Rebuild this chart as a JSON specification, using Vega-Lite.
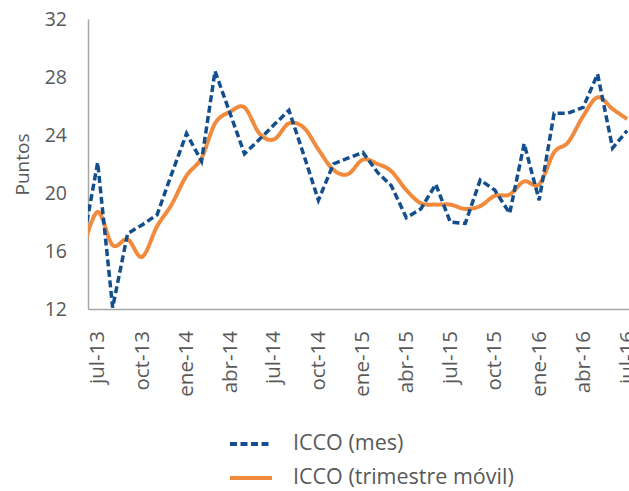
{
  "$schema": "https://vega.github.io/schema/vega-lite/v6.json",
  "width": 541,
  "height": 290,
  "autosize": {"type": "none"},
  "padding": {"left": 88, "top": 19, "right": 0, "bottom": 182},
  "background": "white",
  "config": {
    "view": {"stroke": null},
    "font": "Open Sans",
    "legend": {
      "orient": "none",
      "legendX": 140,
      "legendY": 402,
      "title": null,
      "symbolType": "stroke",
      "symbolSize": 1764,
      "symbolStrokeWidth": 4,
      "labelFontSize": 21.5,
      "labelColor": "#595959",
      "labelOffset": 19,
      "labelLimit": 0,
      "rowPadding": 0,
      "labelFont": "Open Sans"
    }
  },
  "datasets": {
    "icco": [
      {"fecha": "2013-06-01", "serie": "ICCO (mes)", "valor": 16.6},
      {"fecha": "2013-07-01", "serie": "ICCO (mes)", "valor": 22.1},
      {"fecha": "2013-08-01", "serie": "ICCO (mes)", "valor": 12.1},
      {"fecha": "2013-09-01", "serie": "ICCO (mes)", "valor": 17.2},
      {"fecha": "2013-10-01", "serie": "ICCO (mes)", "valor": 17.8},
      {"fecha": "2013-11-01", "serie": "ICCO (mes)", "valor": 18.5},
      {"fecha": "2013-12-01", "serie": "ICCO (mes)", "valor": 21.3},
      {"fecha": "2014-01-01", "serie": "ICCO (mes)", "valor": 24.1},
      {"fecha": "2014-02-01", "serie": "ICCO (mes)", "valor": 22.2},
      {"fecha": "2014-03-01", "serie": "ICCO (mes)", "valor": 28.4},
      {"fecha": "2014-04-01", "serie": "ICCO (mes)", "valor": 25.5},
      {"fecha": "2014-05-01", "serie": "ICCO (mes)", "valor": 22.7},
      {"fecha": "2014-06-01", "serie": "ICCO (mes)", "valor": 23.7},
      {"fecha": "2014-07-01", "serie": "ICCO (mes)", "valor": 24.7},
      {"fecha": "2014-08-01", "serie": "ICCO (mes)", "valor": 25.7},
      {"fecha": "2014-09-01", "serie": "ICCO (mes)", "valor": 22.6},
      {"fecha": "2014-10-01", "serie": "ICCO (mes)", "valor": 19.5},
      {"fecha": "2014-11-01", "serie": "ICCO (mes)", "valor": 22.0},
      {"fecha": "2014-12-01", "serie": "ICCO (mes)", "valor": 22.4},
      {"fecha": "2015-01-01", "serie": "ICCO (mes)", "valor": 22.8},
      {"fecha": "2015-02-01", "serie": "ICCO (mes)", "valor": 21.4},
      {"fecha": "2015-03-01", "serie": "ICCO (mes)", "valor": 20.5},
      {"fecha": "2015-04-01", "serie": "ICCO (mes)", "valor": 18.3},
      {"fecha": "2015-05-01", "serie": "ICCO (mes)", "valor": 18.9},
      {"fecha": "2015-06-01", "serie": "ICCO (mes)", "valor": 20.6},
      {"fecha": "2015-07-01", "serie": "ICCO (mes)", "valor": 18.0},
      {"fecha": "2015-08-01", "serie": "ICCO (mes)", "valor": 17.9},
      {"fecha": "2015-09-01", "serie": "ICCO (mes)", "valor": 20.9},
      {"fecha": "2015-10-01", "serie": "ICCO (mes)", "valor": 20.2},
      {"fecha": "2015-11-01", "serie": "ICCO (mes)", "valor": 18.6},
      {"fecha": "2015-12-01", "serie": "ICCO (mes)", "valor": 23.4},
      {"fecha": "2016-01-01", "serie": "ICCO (mes)", "valor": 19.5},
      {"fecha": "2016-02-01", "serie": "ICCO (mes)", "valor": 25.5},
      {"fecha": "2016-03-01", "serie": "ICCO (mes)", "valor": 25.5},
      {"fecha": "2016-04-01", "serie": "ICCO (mes)", "valor": 25.9},
      {"fecha": "2016-05-01", "serie": "ICCO (mes)", "valor": 28.2},
      {"fecha": "2016-06-01", "serie": "ICCO (mes)", "valor": 23.1},
      {"fecha": "2016-07-01", "serie": "ICCO (mes)", "valor": 24.3},
      {"fecha": "2013-06-01", "serie": "ICCO (trimestre móvil)", "valor": 16.2},
      {"fecha": "2013-07-01", "serie": "ICCO (trimestre móvil)", "valor": 18.7},
      {"fecha": "2013-08-01", "serie": "ICCO (trimestre móvil)", "valor": 16.4},
      {"fecha": "2013-09-01", "serie": "ICCO (trimestre móvil)", "valor": 16.8},
      {"fecha": "2013-10-01", "serie": "ICCO (trimestre móvil)", "valor": 15.6},
      {"fecha": "2013-11-01", "serie": "ICCO (trimestre móvil)", "valor": 17.7},
      {"fecha": "2013-12-01", "serie": "ICCO (trimestre móvil)", "valor": 19.2},
      {"fecha": "2014-01-01", "serie": "ICCO (trimestre móvil)", "valor": 21.2},
      {"fecha": "2014-02-01", "serie": "ICCO (trimestre móvil)", "valor": 22.4},
      {"fecha": "2014-03-01", "serie": "ICCO (trimestre móvil)", "valor": 24.8},
      {"fecha": "2014-04-01", "serie": "ICCO (trimestre móvil)", "valor": 25.6},
      {"fecha": "2014-05-01", "serie": "ICCO (trimestre móvil)", "valor": 25.9},
      {"fecha": "2014-06-01", "serie": "ICCO (trimestre móvil)", "valor": 24.1},
      {"fecha": "2014-07-01", "serie": "ICCO (trimestre móvil)", "valor": 23.7},
      {"fecha": "2014-08-01", "serie": "ICCO (trimestre móvil)", "valor": 24.8},
      {"fecha": "2014-09-01", "serie": "ICCO (trimestre móvil)", "valor": 24.5},
      {"fecha": "2014-10-01", "serie": "ICCO (trimestre móvil)", "valor": 23.0},
      {"fecha": "2014-11-01", "serie": "ICCO (trimestre móvil)", "valor": 21.6},
      {"fecha": "2014-12-01", "serie": "ICCO (trimestre móvil)", "valor": 21.3},
      {"fecha": "2015-01-01", "serie": "ICCO (trimestre móvil)", "valor": 22.3},
      {"fecha": "2015-02-01", "serie": "ICCO (trimestre móvil)", "valor": 22.0},
      {"fecha": "2015-03-01", "serie": "ICCO (trimestre móvil)", "valor": 21.5},
      {"fecha": "2015-04-01", "serie": "ICCO (trimestre móvil)", "valor": 20.2},
      {"fecha": "2015-05-01", "serie": "ICCO (trimestre móvil)", "valor": 19.3},
      {"fecha": "2015-06-01", "serie": "ICCO (trimestre móvil)", "valor": 19.2},
      {"fecha": "2015-07-01", "serie": "ICCO (trimestre móvil)", "valor": 19.2},
      {"fecha": "2015-08-01", "serie": "ICCO (trimestre móvil)", "valor": 18.9},
      {"fecha": "2015-09-01", "serie": "ICCO (trimestre móvil)", "valor": 19.1},
      {"fecha": "2015-10-01", "serie": "ICCO (trimestre móvil)", "valor": 19.8},
      {"fecha": "2015-11-01", "serie": "ICCO (trimestre móvil)", "valor": 19.9},
      {"fecha": "2015-12-01", "serie": "ICCO (trimestre móvil)", "valor": 20.8},
      {"fecha": "2016-01-01", "serie": "ICCO (trimestre móvil)", "valor": 20.6},
      {"fecha": "2016-02-01", "serie": "ICCO (trimestre móvil)", "valor": 22.8},
      {"fecha": "2016-03-01", "serie": "ICCO (trimestre móvil)", "valor": 23.5},
      {"fecha": "2016-04-01", "serie": "ICCO (trimestre móvil)", "valor": 25.3},
      {"fecha": "2016-05-01", "serie": "ICCO (trimestre móvil)", "valor": 26.6},
      {"fecha": "2016-06-01", "serie": "ICCO (trimestre móvil)", "valor": 25.8},
      {"fecha": "2016-07-01", "serie": "ICCO (trimestre móvil)", "valor": 25.1}
    ]
  },
  "data": {"name": "icco"},
  "encoding": {
    "x": {
      "field": "fecha",
      "type": "temporal",
      "scale": {
        "type": "utc",
        "domain": [
          {"year": 2013, "month": 6, "date": 11, "utc": true},
          {"year": 2016, "month": 7, "date": 5, "utc": true}
        ]
      },
      "axis": {
        "title": null,
        "values": [
          {"year": 2013, "month": 7, "date": 1, "utc": true},
          {"year": 2013, "month": 10, "date": 1, "utc": true},
          {"year": 2014, "month": 1, "date": 1, "utc": true},
          {"year": 2014, "month": 4, "date": 1, "utc": true},
          {"year": 2014, "month": 7, "date": 1, "utc": true},
          {"year": 2014, "month": 10, "date": 1, "utc": true},
          {"year": 2015, "month": 1, "date": 1, "utc": true},
          {"year": 2015, "month": 4, "date": 1, "utc": true},
          {"year": 2015, "month": 7, "date": 1, "utc": true},
          {"year": 2015, "month": 10, "date": 1, "utc": true},
          {"year": 2016, "month": 1, "date": 1, "utc": true},
          {"year": 2016, "month": 4, "date": 1, "utc": true},
          {"year": 2016, "month": 7, "date": 1, "utc": true}
        ],
        "labelExpr": "['ene','feb','mar','abr','may','jun','jul','ago','sep','oct','nov','dic'][utcmonth(datum.value)] + '-' + utcFormat(datum.value, '%y')",
        "labelAngle": 270,
        "labelAlign": "right",
        "labelBaseline": "middle",
        "labelPadding": 21.5,
        "labelFlush": false,
        "labelOverlap": false,
        "labelBound": false,
        "labelFontSize": 20.5,
        "labelColor": "#595959",
        "ticks": false,
        "grid": false,
        "domainColor": "#A6A6A6",
        "domainWidth": 1.5
      }
    },
    "y": {
      "field": "valor",
      "type": "quantitative",
      "scale": {"domain": [12, 32], "nice": false, "zero": false},
      "axis": {
        "title": "Puntos",
        "values": [12, 16, 20, 24, 28, 32],
        "ticks": false,
        "grid": false,
        "labelPadding": 21.5,
        "labelFlush": false,
        "labelFontSize": 19.5,
        "labelColor": "#595959",
        "domainColor": "#A6A6A6",
        "domainWidth": 1.5,
        "titleFontSize": 19,
        "titleFontWeight": "normal",
        "titleColor": "#595959",
        "titleAngle": 270,
        "titleAlign": "center",
        "titleBaseline": "alphabetic",
        "titleX": -59.5,
        "titleY": 145
      }
    },
    "color": {
      "field": "serie",
      "type": "nominal",
      "scale": {
        "domain": ["ICCO (mes)", "ICCO (trimestre móvil)"],
        "range": ["#134F8C", "#F08A3C"]
      }
    },
    "strokeDash": {
      "field": "serie",
      "type": "nominal",
      "scale": {
        "domain": ["ICCO (mes)", "ICCO (trimestre móvil)"],
        "range": [[7, 3.5], [1, 0]]
      }
    }
  },
  "layer": [
    {
      "transform": [{"filter": "datum.serie == 'ICCO (trimestre móvil)'"}],
      "mark": {"type": "line", "interpolate": "cardinal", "strokeWidth": 4, "clip": true}
    },
    {
      "transform": [{"filter": "datum.serie == 'ICCO (mes)'"}],
      "mark": {"type": "line", "strokeWidth": 3.5, "clip": true}
    }
  ]
}
